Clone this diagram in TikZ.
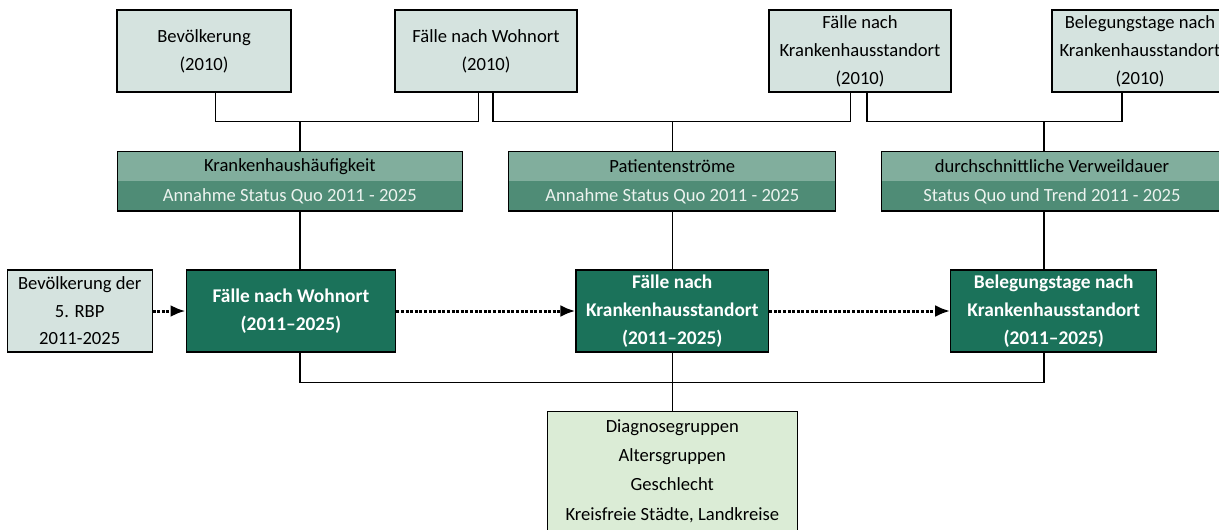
\documentclass[tikz,border=0pt]{standalone}
\usepackage{fontspec}
\setmainfont{Carlito}
\usetikzlibrary{arrows.meta}
\definecolor{lightbox}{RGB}{213,227,223}
\definecolor{midtop}{RGB}{129,174,157}
\definecolor{midbot}{RGB}{79,140,118}
\definecolor{midtext}{RGB}{236,243,239}
\definecolor{darkgreen}{RGB}{27,114,90}
\definecolor{diagfill}{RGB}{219,236,214}
\begin{document}
\begin{tikzpicture}[x=1pt,y=-1pt,
  every node/.style={inner sep=0pt, align=center, font=\fontsize{18.6pt}{28pt}\selectfont},
  srcbox/.style={draw=black, line width=1.1pt, fill=lightbox, minimum height=82pt},
  darkbox/.style={draw=black, line width=1.1pt, fill=darkgreen, text=white, minimum height=82pt, font=\fontsize{19.4pt}{28pt}\selectfont\bfseries},
  striptop/.style={fill=midtop, text=black, minimum height=29.5pt},
  stripbot/.style={fill=midbot, text=midtext, minimum height=29.5pt},
  diagbox/.style={draw=black, line width=1.1pt, fill=diagfill, minimum width=250pt, minimum height=118.6pt, font=\fontsize{18.6pt}{29.3pt}\selectfont},
  link/.style={line width=1.1pt},
  flow/.style={line width=3pt, dash pattern=on 3pt off 1.6pt, -{Latex[length=15pt,width=12pt]}}
]
\useasboundingbox (0,0) rectangle (1219,530);
\clip (0,0) rectangle (1219,530);

% top source boxes
\node[srcbox, minimum width=174pt] (B1) at (204,51) {Bevölkerung\\(2010)};
\node[srcbox, minimum width=182pt] (B2) at (486,51) {Fälle nach Wohnort\\(2010)};
\node[srcbox, minimum width=182pt] (B3) at (860,51) {Fälle nach\\Krankenhausstandort\\(2010)};
\node[srcbox, minimum width=176pt] (B4) at (1140,51) {Belegungstage nach\\Krankenhausstandort\\(2010)};

% middle assumption boxes
\node[striptop, minimum width=344.8pt] (M1t) at (289.8,166.5) {Krankenhaushäufigkeit};
\node[stripbot, minimum width=344.8pt] (M1b) at (289.8,196) {Annahme Status Quo 2011 - 2025};
\draw[link] (M1t.north west) rectangle (M1b.south east);

\node[striptop, minimum width=326.7pt] (M2t) at (672.3,166.5) {Patientenströme};
\node[stripbot, minimum width=326.7pt] (M2b) at (672.3,196) {Annahme Status Quo 2011 - 2025};
\draw[link] (M2t.north west) rectangle (M2b.south east);

\node[striptop, minimum width=341pt] (M3t) at (1052,166.5) {durchschnittliche Verweildauer};
\node[stripbot, minimum width=341pt] (M3b) at (1052,196) {Status Quo und Trend 2011 - 2025};
\draw[link] (M3t.north west) rectangle (M3b.south east);

% row of result boxes
\node[srcbox, minimum width=144.7pt, font=\fontsize{18.6pt}{27.5pt}\selectfont] (RBP) at (79.7,311) {Bevölkerung der\\5. RBP\\2011-2025};
\node[darkbox, minimum width=209.7pt] (DW) at (290.9,311) {Fälle nach Wohnort\\(2011--2025)};
\node[darkbox, minimum width=192.7pt] (DK) at (672.3,311) {Fälle nach\\Krankenhausstandort\\(2011--2025)};
\node[darkbox, minimum width=206pt] (DB) at (1053.7,311) {Belegungstage nach\\Krankenhausstandort\\(2011--2025)};

% bottom box
\node[diagbox] (DG) at (672.3,471) {Diagnosegruppen\\Altersgruppen\\Geschlecht\\Kreisfreie Städte, Landkreise};

% connectors top
\draw[link] ([xshift=11.5pt]B1.south) -- ++(0,29) -| ([xshift=-7.6pt]B2.south);
\draw[link] ([xshift=7pt]B2.south) -- ++(0,29) -| ([xshift=-9.3pt]B3.south);
\draw[link] ([xshift=7pt]B3.south) -- ++(0,29) -| ([xshift=-18pt]B4.south);
\draw[link] ([xshift=10.2pt]M1t.north) -- ([xshift=10.2pt,yshift=30.75pt]M1t.north);
\draw[link] (M2t.north) -- ([yshift=30.75pt]M2t.north);
\draw[link] ([xshift=-8pt]M3t.north) -- ([xshift=-8pt,yshift=30.75pt]M3t.north);

% connectors middle to results
\draw[link] ([xshift=10.2pt]M1b.south) -- ([xshift=9.1pt]DW.north);
\draw[link] (M2b.south) -- (DK.north);
\draw[link] ([xshift=-8pt]M3b.south) -- ([xshift=-9.7pt]DB.north);

% bottom bus
\draw[link] ([xshift=9.1pt]DW.south) -- ++(0,30) -| ([xshift=-9.7pt]DB.south);
\draw[link] (DK.south) -- (DG.north);

% flow arrows
\draw[flow] (RBP.east) -- (DW.west);
\draw[flow] (DW.east) -- (DK.west);
\draw[flow] (DK.east) -- (DB.west);
\end{tikzpicture}
\end{document}
